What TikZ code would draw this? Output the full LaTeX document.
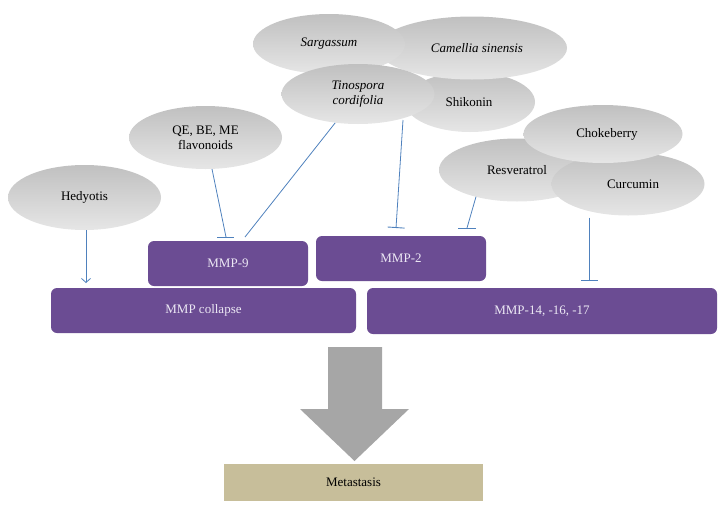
\documentclass[tikz,border=0pt]{standalone}
\usepackage{fontspec}
\setmainfont{Liberation Serif}
\usetikzlibrary{arrows.meta,shapes.geometric}
\definecolor{mmppurple}{RGB}{107,76,147}
\definecolor{mmptext}{RGB}{236,232,244}
\definecolor{linkblue}{RGB}{79,129,189}
\definecolor{bigarrow}{RGB}{166,166,166}
\definecolor{metatan}{RGB}{199,190,154}
\definecolor{elltop}{RGB}{192,192,192}
\definecolor{ellbot}{RGB}{230,230,230}
\tikzset{
  agent/.style={ellipse, inner sep=0pt, top color=elltop, bottom color=ellbot, draw=none,
    font=\fontsize{13}{15}\selectfont, align=center},
  mmpbox/.style={rectangle, rounded corners=6pt, fill=mmppurple, draw=none,
    text=mmptext, font=\fontsize{13}{15}\selectfont, inner sep=0pt},
  inhib/.style={draw=linkblue, line width=0.8pt, -{Bar[width=17pt,line width=0.9pt]}},
  activ/.style={draw=linkblue, line width=0.8pt, -{Straight Barb[length=4pt,width=9pt,line width=0.8pt]}},
  plainlink/.style={draw=linkblue, line width=0.8pt},
}
\begin{document}
\begin{tikzpicture}[x=1pt,y=-1pt]
\useasboundingbox (0,0) rectangle (725,509);

% boxes
\node[mmpbox, minimum width=160pt, minimum height=45pt] (mmp9) at (228,263.5) {MMP-9};
\node[mmpbox, minimum width=170pt, minimum height=45pt] (mmp2) at (401,258.5) {MMP-2};
\node[mmpbox, minimum width=305pt, minimum height=45pt] (collapse) at (203.5,310.5) {MMP collapse};
\node[mmpbox, minimum width=350pt, minimum height=46pt] (mmp14) at (542,311) {MMP-14, -16, -17};

% big arrow
\fill[bigarrow] (328,347) -- (382,347) -- (382,409) -- (409,409) -- (354.5,461)
  -- (300,409) -- (328,409) -- cycle;
\node[rectangle, fill=metatan, minimum width=259pt, minimum height=37pt, inner sep=0pt,
  font=\fontsize{13}{15}\selectfont] (meta) at (353.5,482.5) {Metastasis};

% ellipses
\node[agent, minimum width=153pt, minimum height=65pt] (hed) at (84.5,197.5) {Hedyotis};
\node[agent, minimum width=153pt, minimum height=63pt] (qe) at (205.5,137.5) {QE, BE, ME\\flavonoids};
\node[agent, minimum width=130pt, minimum height=60pt] (shik) at (470,102) {\hspace*{-2pt}Shikonin};
\node[agent, minimum width=190pt, minimum height=63pt] (cam) at (472,48) {\hspace*{10pt}\itshape Camellia sinensis};
\node[agent, minimum width=152pt, minimum height=60pt] (sarg) at (329,44) {\itshape Sargassum};
\node[agent, minimum width=153pt, minimum height=60pt] (tino) at (358,94) {\itshape Tinospora\\\itshape cordifolia};
\node[agent, minimum width=156pt, minimum height=63pt] (resv) at (517,170) {Resveratrol};
\node[agent, minimum width=153pt, minimum height=63pt] (curc) at (628,184) {\hspace*{10pt}Curcumin};
\node[agent, minimum width=159pt, minimum height=58pt] (choke) at (603,134) {\hspace*{8pt}Chokeberry};

% connector ends
\coordinate (hedend) at (86,283);
\coordinate (qeend) at (226,237);
\coordinate (tinoend) at (245,237);
\coordinate (shikend) at (396,228);
\coordinate (resvend) at (467,228);
\coordinate (curcend) at (589,281);

\draw[activ] (hed.south -| hedend) -- (hedend);
\draw[plainlink] (qe) -- (qeend);
\draw[plainlink] ([xshift=-9pt]qeend) -- ([xshift=8pt]qeend);
\draw[plainlink] (tino) -- (tinoend);
\draw[inhib] ([xshift=-67pt,yshift=-18pt]shik.center) -- (shikend);
\draw[plainlink] ([xshift=-41pt,yshift=5pt]resv.south) -- (resvend);
\draw[plainlink] ([xshift=-9pt]resvend) -- ([xshift=9pt]resvend);
\draw[inhib] (curc.south -| curcend) ++(0,2) -- (curcend);
\end{tikzpicture}
\end{document}
